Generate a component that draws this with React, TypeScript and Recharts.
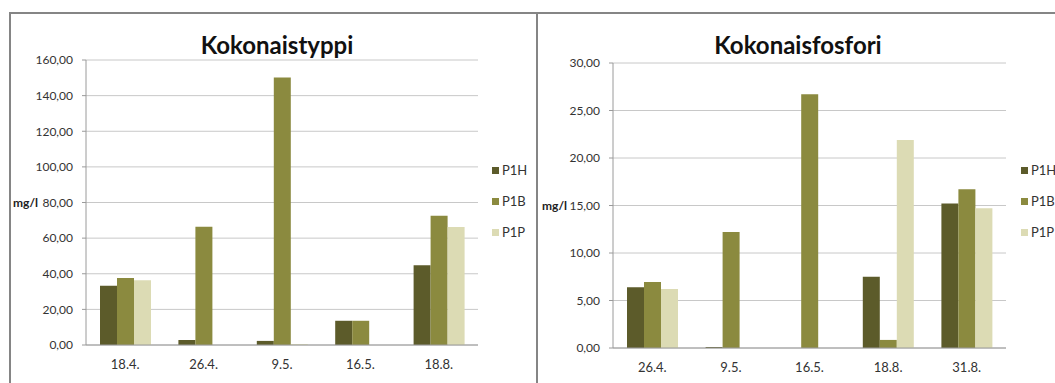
import React from 'react';
import { BarChart, Bar, XAxis, YAxis, CartesianGrid, Label } from 'recharts';

// Kokonaistyppi (total nitrogen), mg/l
const typpiDates = ['18.4.', '26.4.', '9.5.', '16.5.', '18.8.'];
const typpiP1H = [33.3, 2.8, 2.3, 13.6, 44.8];
const typpiP1B = [37.6, 66.4, 150.2, 13.6, 72.6];
const typpiP1P = [36.3, 0, 0.5, 0, 66.3];
const typpiTicks = [0, 20, 40, 60, 80, 100, 120, 140, 160];

// Kokonaisfosfori (total phosphorus), mg/l
const fosforiDates = ['26.4.', '9.5.', '16.5.', '18.8.', '31.8.'];
const fosforiP1H = [6.4, 0.1, 0, 7.5, 15.2];
const fosforiP1B = [6.95, 12.2, 26.7, 0.85, 16.7];
const fosforiP1P = [6.2, 0, 0, 21.9, 14.7];
const fosforiTicks = [0, 5, 10, 15, 20, 25, 30];

const seriesNames = ['P1H', 'P1B', 'P1P'];
const COLORS = ['#5c5b2a', '#8b8a3f', '#dcdbb4'];
const edgeTicks = [0, 1, 2, 3, 4, 5];

const FONT = 'Lato, "DejaVu Sans", sans-serif';
const GRID = '#c8c8c8';
const AXIS = '#9a9a9a';
const TEXT = '#333';

const buildRows = (dates: string[], h: number[], b: number[], p: number[]) =>
    dates.map((date, i) => ({ date, idx: i + 0.5, P1H: h[i], P1B: b[i], P1P: p[i] }));

const fmt = (v: number) => v.toFixed(2).replace('.', ',');

interface PanelProps {
    left: number;
    width: number;
    title: string;
    titleCenter: number;
    rows: any[];
    ticks: number[];
    yAxisWidth: number;
    margin: { top: number; right: number; bottom: number; left: number };
    labelOffset: number;
    legendLeft: number;
}

function Panel({ left, width, title, titleCenter, rows, ticks, yAxisWidth, margin, labelOffset, legendLeft }: PanelProps) {
    return (
        <div style={{ position: 'absolute', left, top: 0, width, height: 383 }}>
            <div
                style={{
                    position: 'absolute',
                    left: titleCenter - 150,
                    width: 300,
                    top: 30,
                    textAlign: 'center',
                    fontFamily: FONT,
                    fontWeight: 700,
                    fontSize: 24,
                    color: '#111',
                    lineHeight: '29px',
                }}
            >
                {title}
            </div>
            <BarChart
                width={width}
                height={383}
                data={rows}
                margin={margin}
                barGap={0}
                barSize={17}
                style={{ position: 'absolute', left: 0, top: 0 }}
            >
                <CartesianGrid vertical={false} stroke={GRID} />
                {/* short marks on the category boundaries */}
                <XAxis
                    xAxisId="edges"
                    type="number"
                    dataKey="idx"
                    domain={[0, 5]}
                    ticks={edgeTicks}
                    height={0}
                    tick={false}
                    tickSize={5}
                    tickLine={{ stroke: AXIS }}
                    axisLine={false}
                />
                <XAxis
                    dataKey="date"
                    height={28}
                    axisLine={{ stroke: AXIS }}
                    tickLine={false}
                    tickSize={0}
                    tickMargin={15}
                    tick={{ fill: TEXT, fontSize: 13, fontFamily: FONT }}
                />
                <YAxis
                    width={yAxisWidth}
                    domain={[ticks[0], ticks[ticks.length - 1]]}
                    ticks={ticks}
                    tickFormatter={fmt}
                    tickSize={4}
                    tickMargin={9}
                    axisLine={{ stroke: AXIS }}
                    tickLine={{ stroke: AXIS }}
                    tick={{ fill: TEXT, fontSize: 12, fontFamily: FONT }}
                >
                    <Label
                        value="mg/l"
                        position="insideLeft"
                        offset={labelOffset}
                        style={{ fontWeight: 700, fontSize: 12, fontFamily: FONT, fill: '#222' }}
                    />
                </YAxis>
                {seriesNames.map((name, i) => (
                    <Bar key={name} dataKey={name} fill={COLORS[i]} isAnimationActive={false} />
                ))}
            </BarChart>
            {seriesNames.map((name, i) => (
                <div
                    key={name}
                    style={{
                        position: 'absolute',
                        left: legendLeft,
                        top: 162 + i * 31,
                        display: 'flex',
                        alignItems: 'center',
                        fontFamily: FONT,
                        fontSize: 13,
                        color: TEXT,
                        lineHeight: '16px',
                    }}
                >
                    <span style={{ display: 'inline-block', width: 7, height: 7, background: COLORS[i], marginRight: 3 }} />
                    {name}
                </div>
            ))}
        </div>
    );
}

export default function App() {
    const typpiRows = buildRows(typpiDates, typpiP1H, typpiP1B, typpiP1P);
    const fosforiRows = buildRows(fosforiDates, fosforiP1H, fosforiP1B, fosforiP1P);

    return (
        <div style={{ position: 'absolute', left: 0, top: 0, width: 1055, height: 383, background: '#fff', overflow: 'hidden' }}>
            <Panel
                left={0}
                width={537}
                title="Kokonaistyppi"
                titleCenter={277}
                rows={typpiRows}
                ticks={typpiTicks}
                yAxisWidth={86}
                margin={{ top: 60, right: 59, bottom: 10, left: 0 }}
                labelOffset={13}
                legendLeft={492}
            />
            <Panel
                left={537}
                width={518}
                title="Kokonaisfosfori"
                titleCenter={261}
                rows={fosforiRows}
                ticks={fosforiTicks}
                yAxisWidth={76}
                margin={{ top: 63, right: 49, bottom: 7, left: 0 }}
                labelOffset={5}
                legendLeft={484}
            />
            {/* outer frame and divider */}
            <div style={{ position: 'absolute', left: 9, top: 12, width: 1046, height: 2, background: '#858585' }} />
            <div style={{ position: 'absolute', left: 9, top: 12, width: 2, height: 371, background: '#858585' }} />
            <div style={{ position: 'absolute', left: 536, top: 12, width: 2, height: 371, background: '#858585' }} />
        </div>
    );
}
